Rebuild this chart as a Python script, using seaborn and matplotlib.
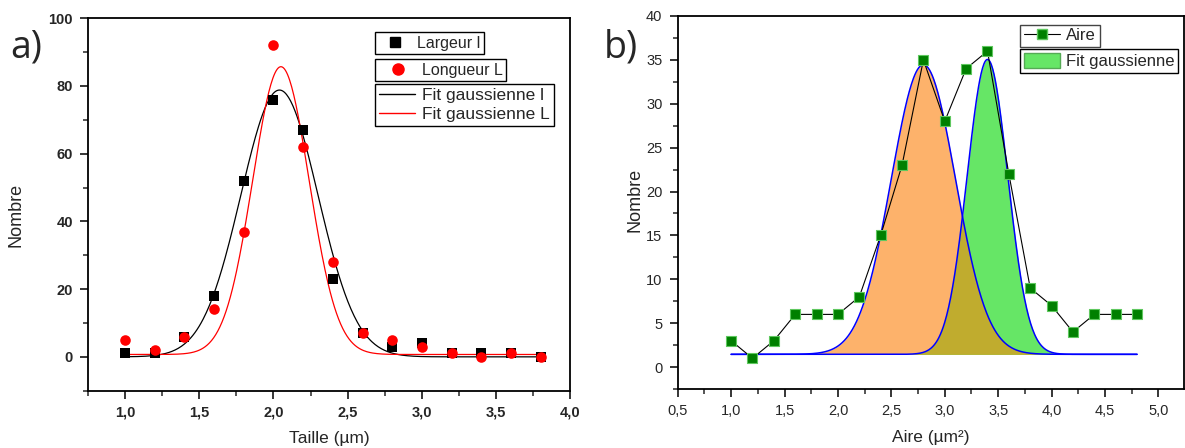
import numpy as np
import matplotlib
matplotlib.use("Agg")
import matplotlib.pyplot as plt
from matplotlib.ticker import MultipleLocator, FuncFormatter
from matplotlib.lines import Line2D
from matplotlib.patches import Patch
import seaborn as sns

# --- panel a) : taille des particules ---
taille = [1.0, 1.2, 1.4, 1.6, 1.8, 2.0, 2.2, 2.4, 2.6, 2.8, 3.0, 3.2, 3.4, 3.6, 3.8]
largeur = [1, 1, 6, 18, 52, 76, 67, 23, 7, 3, 4, 1, 1, 1, 0]
longueur = [5, 2, 6, 14, 37, 92, 62, 28, 7, 5, 3, 1, 0, 1, 0]
# gaussian fit parameters: (y0, A, xc, sigma)
fit_largeur = (0.0, 78.8, 2.04, 0.26)
fit_longueur = (0.7, 85.0, 2.05, 0.19)

# --- panel b) : aire ---
aire = [1.0, 1.2, 1.4, 1.6, 1.8, 2.0, 2.2, 2.4, 2.6, 2.8,
        3.0, 3.2, 3.4, 3.6, 3.8, 4.0, 4.2, 4.4, 4.6, 4.8]
nombre_aire = [3, 1, 3, 6, 6, 6, 8, 15, 23, 35, 28, 34, 36, 22, 9, 7, 4, 6, 6, 6]
fit_aire_1 = (1.45, 33.0, 2.8, 0.30)
fit_aire_2 = (1.45, 33.6, 3.4, 0.19)


def gauss(x, p):
    y0, a, xc, s = p
    return y0 + a * np.exp(-(x - xc) ** 2 / (2 * s ** 2))


def comma(v, pos):
    return f"{v:.1f}".replace(".", ",")


sns.set_style("ticks")
plt.rcParams["font.family"] = ["Liberation Sans", "DejaVu Sans"]

fig = plt.figure(figsize=(11.85, 4.48), dpi=100)
ax1 = fig.add_axes([0.0743, 0.1279, 0.4069, 0.8313])
ax2 = fig.add_axes([0.5719, 0.1317, 0.4273, 0.8326])

# ---------------- a) ----------------
xf = np.linspace(1.0, 3.8, 400)
sns.lineplot(x=xf, y=gauss(xf, fit_largeur), ax=ax1, color="black", lw=0.9, zorder=2)
sns.lineplot(x=xf, y=gauss(xf, fit_longueur), ax=ax1, color="#FF0000", lw=0.9, zorder=2)
sns.scatterplot(x=taille, y=largeur, ax=ax1, marker="s", s=50, color="black",
                edgecolor="black", linewidth=0, zorder=3)
sns.scatterplot(x=taille, y=longueur, ax=ax1, marker="o", s=58, color="#FF0000",
                edgecolor="#FF0000", linewidth=0, zorder=4)

ax1.set_xlim(0.75, 4.0)
ax1.set_ylim(-10, 100)
ax1.xaxis.set_major_locator(MultipleLocator(0.5))
ax1.xaxis.set_minor_locator(MultipleLocator(0.25))
ax1.yaxis.set_major_locator(MultipleLocator(20))
ax1.yaxis.set_minor_locator(MultipleLocator(10))
ax1.xaxis.set_major_formatter(FuncFormatter(comma))
ax1.tick_params(which="major", direction="out", length=6, width=1.3, labelsize=10.5, pad=5)
ax1.tick_params(which="minor", direction="out", length=3.5, width=1.1)
for lab in ax1.get_xticklabels() + ax1.get_yticklabels():
    lab.set_fontweight("bold")
ax1.set_xlabel("Taille (µm)", fontsize=12.5)
ax1.set_ylabel("Nombre", fontsize=13)
ax1.xaxis.set_label_coords(0.5, -0.107)
ax1.yaxis.set_label_coords(-0.131, 0.472)

leg_kw = dict(loc="upper left", frameon=True, fancybox=False, framealpha=1,
              edgecolor="black", borderpad=0.22, borderaxespad=0)
l1 = ax1.legend(handles=[Line2D([], [], ls="", marker="s", color="black", ms=7)],
                labels=["Largeur l"], bbox_to_anchor=(0.595, 0.963), fontsize=11.5,
                handlelength=2.1, handletextpad=0.3, **leg_kw)
ax1.add_artist(l1)
l2 = ax1.legend(handles=[Line2D([], [], ls="", marker="o", color="#FF0000", ms=8)],
                labels=["Longueur L"], bbox_to_anchor=(0.595, 0.8905), fontsize=11.5,
                handlelength=2.5, handletextpad=0.2, **leg_kw)
ax1.add_artist(l2)
ax1.legend(handles=[Line2D([], [], color="black", lw=1), Line2D([], [], color="#FF0000", lw=1)],
           labels=["Fit gaussienne l", "Fit gaussienne L"], bbox_to_anchor=(0.595, 0.8236),
           fontsize=12.5, handlelength=2.1, handletextpad=0.4, labelspacing=0.25, **leg_kw)

# ---------------- b) ----------------
xa = np.linspace(1.0, 4.8, 600)
g1 = gauss(xa, fit_aire_1)
g2 = gauss(xa, fit_aire_2)
base = fit_aire_1[0]
ax2.fill_between(xa, base, g1, color="#FDB26B", lw=0, zorder=1)
ax2.fill_between(xa, base, g2, color="#66E666", lw=0, zorder=1)
ax2.fill_between(xa, base, np.minimum(g1, g2), color="#C0AC2E", lw=0, zorder=1)
sns.lineplot(x=xa, y=g1, ax=ax2, color="#0000FF", lw=1.1, zorder=2)
sns.lineplot(x=xa, y=g2, ax=ax2, color="#0000FF", lw=1.1, zorder=2)
sns.lineplot(x=aire, y=nombre_aire, ax=ax2, color="black", lw=0.8, zorder=3)
sns.scatterplot(x=aire, y=nombre_aire, ax=ax2, marker="s", s=45, color="#008000",
                edgecolor="#5FC85F", linewidth=0.8, zorder=4)

ax2.set_xlim(0.5, 5.24)
ax2.set_ylim(-2.5, 40)
ax2.xaxis.set_major_locator(MultipleLocator(0.5))
ax2.xaxis.set_minor_locator(MultipleLocator(0.25))
ax2.yaxis.set_major_locator(MultipleLocator(5))
ax2.yaxis.set_minor_locator(MultipleLocator(2.5))
ax2.xaxis.set_major_formatter(FuncFormatter(comma))
ax2.tick_params(which="major", direction="out", length=6, width=1.3, labelsize=10.5, pad=5)
ax2.tick_params(which="minor", direction="out", length=3.5, width=1.1)
ax2.set_xlabel("Aire (µm²)", fontsize=12.5)
ax2.set_ylabel("Nombre", fontsize=13)
ax2.xaxis.set_label_coords(0.5, -0.11)
ax2.yaxis.set_label_coords(-0.0685, 0.507)

l3 = ax2.legend(handles=[Line2D([], [], color="black", lw=0.8, marker="s", ms=7,
                                markerfacecolor="#008000", markeredgecolor="#5FC85F")],
                labels=["Aire"], bbox_to_anchor=(0.676, 0.977), fontsize=12,
                handlelength=2.2, handletextpad=0.35, **{**leg_kw, "edgecolor": "#444444"})
ax2.add_artist(l3)
ax2.legend(handles=[Patch(facecolor="#66E666", edgecolor="#55AA55")],
           labels=["Fit gaussienne"], bbox_to_anchor=(0.676, 0.911), fontsize=12,
           handlelength=2.2, handleheight=1.05, handletextpad=0.35, **leg_kw)

for ax in (ax1, ax2):
    for sp in ax.spines.values():
        sp.set_visible(True)
        sp.set_linewidth(1.3)
        sp.set_color("black")

fig.text(0.0084, 0.871, "a)", fontsize=27, family=["Open Sans", "DejaVu Sans"])
fig.text(0.5097, 0.871, "b)", fontsize=27, family=["Open Sans", "DejaVu Sans"])

fig.savefig("out.png", dpi=100)
